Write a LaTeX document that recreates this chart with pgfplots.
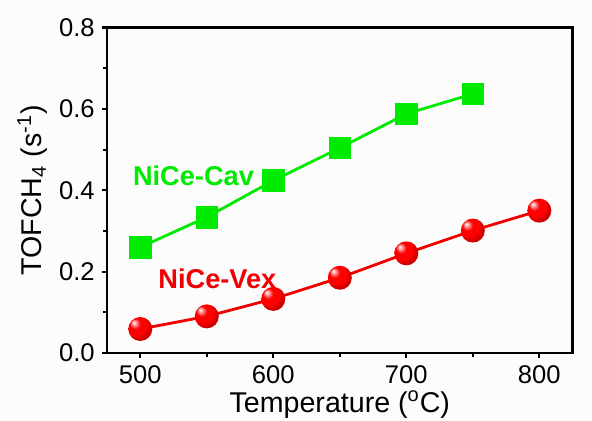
\documentclass[border=0pt]{standalone}
\usepackage{pgfplots}
\pgfplotsset{compat=1.18}
\usepackage{fontspec}
\setmainfont{Liberation Sans}

\definecolor{cavgreen}{RGB}{0,235,0}
\definecolor{vexred}{RGB}{240,0,0}

% glossy red sphere used as the NiCe-Vex marker
\pgfdeclareradialshading{redball}{\pgfpoint{-14bp}{14bp}}{%
  color(0bp)=(white); color(5bp)=(red!45!white); color(11bp)=(red);
  color(22bp)=(red); color(25bp)=(red!85!black); color(50bp)=(red!60!black)}
\pgfdeclareplotmark{redball}{%
  \pgfpathcircle{\pgfpointorigin}{\pgfplotmarksize}%
  \pgfshadepath{redball}{0}%
  \pgfusepath{discard}}

\pgfplotstableread{
T    tof
500  0.260
550  0.334
600  0.424
650  0.504
700  0.588
750  0.637
}\cavdata

\pgfplotstableread{
T    tof
500  0.059
550  0.090
600  0.133
650  0.185
700  0.245
750  0.301
800  0.350
}\vexdata

\begin{document}
\begin{tikzpicture}
\path[use as bounding box, fill={rgb,1:red,0.99;green,0.99;blue,0.99}]
  (-53.5pt,-34pt) rectangle (242.5pt,176.5pt);
\begin{axis}[
  scale only axis,
  width=232.8pt, height=162.7pt,
  xmin=475, xmax=825, ymin=0, ymax=0.8,
  axis line style={line width=1.4pt},
  xtick={500,600,700,800},
  minor xtick={550,650,750},
  ytick={0,0.2,0.4,0.6,0.8},
  minor ytick={0.1,0.3,0.5,0.7},
  xtick pos=bottom, ytick pos=left,
  tick align=outside,
  major tick length=2.6pt, minor tick length=2pt,
  tick style={line width=1.1pt, black},
  tick label style={font=\fontsize{12.8}{15}\selectfont},
  /pgf/number format/assume math mode=true,
  yticklabel style={/pgf/number format/.cd, fixed, fixed zerofill, precision=1},
  xticklabel style={/pgf/number format/.cd, 1000 sep={}},
  xlabel={Temperature (\textsuperscript{o}C)},
  ylabel={TOFCH\textsubscript{4} (s\textsuperscript{-1})},
  label style={font=\fontsize{14.3}{16}\selectfont},
  xlabel style={yshift=3pt},
  ylabel style={yshift=-1pt},
  clip=false,
]
\addplot[color=cavgreen, line width=1.4pt, mark=square*,
  mark size=5.4pt, mark options={fill=cavgreen, draw=cavgreen, line width=0.3pt}]
  table[x=T, y=tof] {\cavdata};
\addplot[color=vexred, line width=1.4pt, mark=redball, mark size=6pt]
  table[x=T, y=tof] {\vexdata};
\node[font=\bfseries\fontsize{13.6}{16}\selectfont, text=cavgreen]
  at (axis cs:540,0.435) {NiCe-Cav};
\node[font=\bfseries\fontsize{13.6}{16}\selectfont, text=vexred]
  at (axis cs:558,0.183) {NiCe-Vex};
\end{axis}
\end{tikzpicture}
\end{document}
